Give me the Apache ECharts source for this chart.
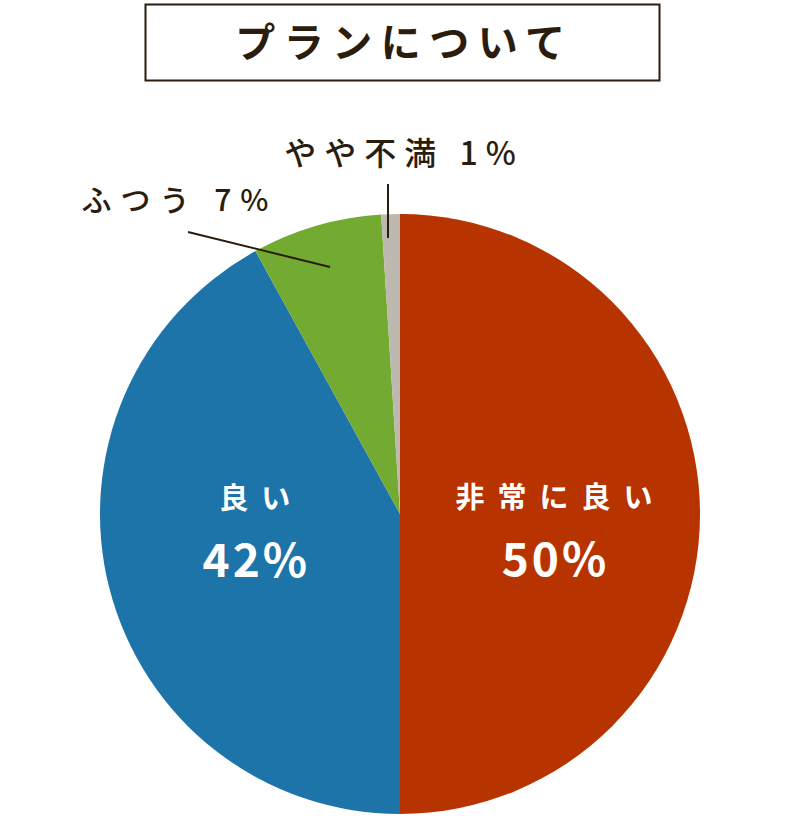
<!DOCTYPE html>
<html><head><meta charset="utf-8">
<script src="https://cdn.jsdelivr.net/npm/echarts@6/dist/echarts.min.js"></script>
<style>
html,body{margin:0;padding:0;background:#fff;}
#main{width:800px;height:816px;}
</style></head>
<body><div id="main"></div>
<script>
const titleText = 'プランについて';
const categories = ['非常に良い', '良い', 'ふつう', 'やや不満'];
const values = [50, 42, 7, 1];
const colors = ['#b73300', '#1c74a9', '#72aa32', '#bdb8b0'];

const dark = '#2b1d0e';
const font = "'Noto Sans CJK JP', 'Noto Sans', sans-serif";
const chart = echarts.init(document.getElementById('main'), null, {renderer: 'svg'});

const insideLabel = {
  show: true, position: 'inside',
  formatter: '{n|{b}}\n{v|{c}%}',
  rich: {
    n: {fontSize: 29, fontWeight: 'bold', color: '#fff', fontFamily: font, lineHeight: 65},
    v: {fontSize: 46, fontWeight: 'bold', color: '#fff', fontFamily: font, lineHeight: 57}
  }
};
const insideOffsets = [[1, 9], [3, -28]];
const outsideFontSizes = [30, 32];

// main pie: slices + inside labels
const mainData = categories.map((c, i) => ({
  name: c, value: values[i],
  itemStyle: {color: colors[i]},
  label: i < 2 ? Object.assign({}, insideLabel, {offset: insideOffsets[i]}) : {show: false},
  labelLine: {show: false}
}));
// overlay pie (transparent): outside labels + leader lines drawn above slices
const overlayData = categories.map((c, i) => ({
  name: c, value: values[i],
  itemStyle: {color: 'rgba(0,0,0,0)'},
  label: i >= 2 ? {
    show: true, position: 'outside', formatter: '{b} {c}%',
    fontSize: outsideFontSizes[i - 2], fontWeight: 500, color: dark, fontFamily: font
  } : {show: false},
  labelLine: {show: i >= 2, lineStyle: {color: dark, width: 2}}
}));

chart.setOption({
  animation: false,
  title: {
    text: titleText, left: 'center', top: 20, padding: 0,
    textStyle: {fontSize: 40, fontWeight: 'bold', color: dark, fontFamily: font}
  },
  graphic: [{
    type: 'rect', left: 143, top: 2,
    shape: {width: 514, height: 76},
    style: {fill: 'none', stroke: dark, lineWidth: 2}
  }],
  series: [{
    type: 'pie', center: [400, 514], radius: [0, 300], z: 2,
    startAngle: 90, clockwise: true,
    itemStyle: {borderWidth: 0},
    emphasis: {disabled: true},
    avoidLabelOverlap: false,
    data: mainData
  }, {
    type: 'pie', center: [400, 514], radius: [0, 300], z: 5,
    startAngle: 90, clockwise: true, silent: true,
    itemStyle: {borderWidth: 0},
    emphasis: {disabled: true},
    avoidLabelOverlap: false,
    data: overlayData,
    labelLayout: function (p) {
      if (p.dataIndex === 2) {
        return {x: 175, y: 198, align: 'center', verticalAlign: 'middle',
          labelLinePoints: [[330, 267], [188, 232], [188, 232]]};
      }
      if (p.dataIndex === 3) {
        return {x: 400, y: 151, align: 'center', verticalAlign: 'middle',
          labelLinePoints: [[388, 238], [388, 184], [388, 184]]};
      }
    }
  }]
});

function spacingFor(txt) {
  if (txt === titleText) return 8.5;
  if (categories.indexOf(txt) >= 0) return 13;
  if (/^\d+%$/.test(txt)) return 3;
  if (txt.indexOf(categories[3]) === 0) return 8;
  if (/%$/.test(txt)) return 9;
  return 0;
}
function applySpacing() {
  document.querySelectorAll('#main svg text').forEach(function (t) {
    if (t.getAttribute('data-sp')) return;
    const s = spacingFor(t.textContent.trim());
    if (!s) return;
    const b0 = t.getBBox();
    const c0 = b0.x + b0.width / 2;
    t.style.letterSpacing = s + 'px';
    const b1 = t.getBBox();
    const c1 = b1.x + b1.width / 2;
    t.setAttribute('dx', (c0 - c1 + s / 2).toFixed(1));
    t.setAttribute('data-sp', '1');
  });
}
chart.getZr().flush();
applySpacing();
chart.on('finished', applySpacing);
</script></body></html>
